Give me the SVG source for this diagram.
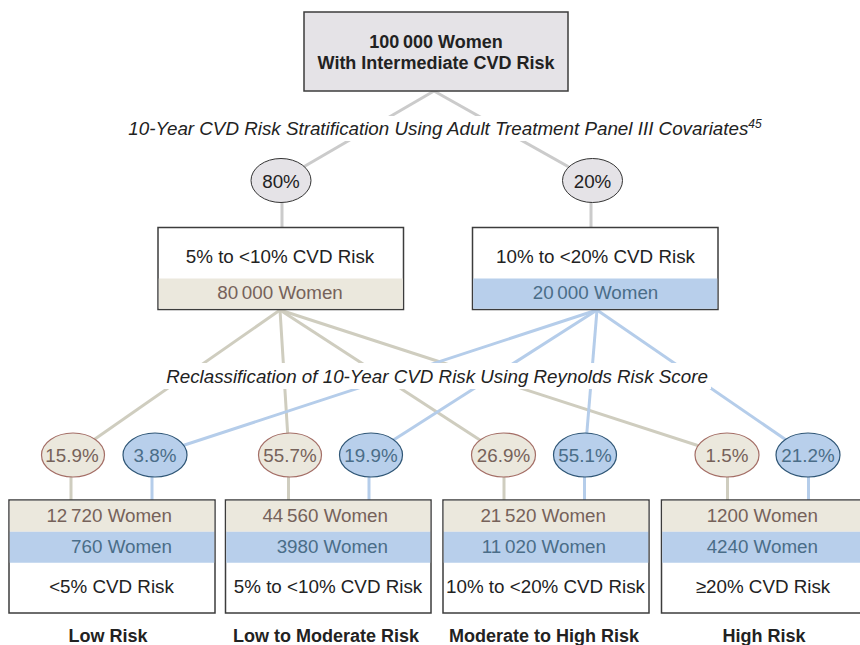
<svg xmlns="http://www.w3.org/2000/svg" width="860" height="645" viewBox="0 0 860 645">
<style>
text{font-family:"Liberation Sans",Arial,sans-serif;font-size:18.8px;fill:#222;}
.b{font-weight:bold;font-size:18px;}
.it{font-style:italic;}
.mid{text-anchor:middle;}
.end{text-anchor:end;}
.tb{fill:#76625a;}
.tbl{fill:#4a6d88;}
.box{fill:#fff;stroke:#3c3c3c;stroke-width:1.5;}
.gray{fill:#e5e3e7;}
.beige{fill:#ebe8dd;}
.blue{fill:#b8cfeb;}
.eg{fill:#e5e3e7;stroke:#333;stroke-width:1;}
.eb{fill:#ebe8dd;stroke:#a46e66;stroke-width:1.2;}
.el{fill:#b8cfeb;stroke:#2f5676;stroke-width:1.2;}
.lg{stroke:#cbcbcb;stroke-width:3;fill:none;}
.lb{stroke:#cfcdbf;stroke-width:3;fill:none;}
.ll{stroke:#b5cdea;stroke-width:3;fill:none;}
</style>
<rect width="860" height="645" fill="#fff"/>
<g id="connectors">
<line class="lg" x1="434" y1="91" x2="281" y2="180"/>
<line class="lg" x1="434" y1="91" x2="592" y2="180"/>
<line class="lg" x1="282" y1="200" x2="282" y2="228"/>
<line class="lg" x1="591" y1="200" x2="591" y2="228"/>
<line class="lb" x1="280" y1="310" x2="72" y2="455"/>
<line class="lb" x1="280" y1="310" x2="289" y2="455"/>
<line class="lb" x1="280" y1="310" x2="503" y2="455"/>
<line class="lb" x1="280" y1="310" x2="727" y2="455"/>
<line class="ll" x1="597" y1="310" x2="154" y2="455"/>
<line class="ll" x1="597" y1="310" x2="370" y2="455"/>
<line class="ll" x1="597" y1="310" x2="585" y2="455"/>
<line class="ll" x1="597" y1="310" x2="808" y2="455"/>
<line class="lb" x1="71" y1="470" x2="71" y2="500"/>
<line class="ll" x1="152" y1="470" x2="152" y2="500"/>
<line class="lb" x1="288.5" y1="470" x2="288.5" y2="500"/>
<line class="ll" x1="369" y1="470" x2="369" y2="500"/>
<line class="lb" x1="504" y1="470" x2="504" y2="500"/>
<line class="ll" x1="584.5" y1="470" x2="584.5" y2="500"/>
<line class="lb" x1="727.5" y1="470" x2="727.5" y2="500"/>
<line class="ll" x1="808.5" y1="470" x2="808.5" y2="500"/>
</g>
<g id="label-stratification">
<rect x="128" y="116" width="636" height="25" fill="#fff"/>
<text class="it mid" x="445" y="134.5">10-Year CVD Risk Stratification Using Adult Treatment Panel III Covariates<tspan font-size="12" dy="-7">45</tspan></text>
</g>
<g id="label-reclassification">
<rect x="163" y="363" width="548" height="26" fill="#fff"/>
<text class="it mid" x="437" y="383">Reclassification of 10-Year CVD Risk Using Reynolds Risk Score</text>
</g>
<g id="top">
<rect class="box gray" x="304" y="12" width="264" height="79"/>
<text class="b mid" x="436" y="48">100&#8201;000 Women</text>
<text class="b mid" x="436" y="69">With Intermediate CVD Risk</text>
</g>
<g id="p80">
<ellipse class="eg" cx="281" cy="180.5" rx="30" ry="22"/>
<text class="mid" x="281" y="188">80%</text>
</g>
<g id="p20">
<ellipse class="eg" cx="592.5" cy="180.5" rx="30" ry="22"/>
<text class="mid" x="592.5" y="188">20%</text>
</g>
<g id="mid-left">
<rect class="box" x="158" y="227.5" width="245.5" height="82"/>
<rect class="beige" x="158.75" y="278.5" width="244" height="30.25"/>
<text class="mid" x="280" y="262.5">5% to &lt;10% CVD Risk</text>
<text class="mid tb" x="280" y="299">80&#8201;000 Women</text>
</g>
<g id="mid-right">
<rect class="box" x="472.5" y="227.5" width="245.5" height="82"/>
<rect class="blue" x="473.25" y="278.5" width="244" height="30.25"/>
<text class="mid" x="595.5" y="262.5">10% to &lt;20% CVD Risk</text>
<text class="mid tbl" x="595.5" y="299">20&#8201;000 Women</text>
</g>
<g id="e159"><ellipse class="eb" cx="73" cy="455" rx="31.5" ry="22"/><text class="mid tb" x="72" y="461.5">15.9%</text></g>
<g id="e38"><ellipse class="el" cx="155" cy="455" rx="32" ry="22"/><text class="mid tbl" x="155" y="461.5">3.8%</text></g>
<g id="e557"><ellipse class="eb" cx="290" cy="455" rx="31.5" ry="22"/><text class="mid tb" x="290" y="461.5">55.7%</text></g>
<g id="e199"><ellipse class="el" cx="371" cy="455" rx="31.5" ry="22"/><text class="mid tbl" x="371" y="461.5">19.9%</text></g>
<g id="e269"><ellipse class="eb" cx="503.5" cy="455" rx="32" ry="22"/><text class="mid tb" x="503.5" y="461.5">26.9%</text></g>
<g id="e551"><ellipse class="el" cx="585" cy="455" rx="31.5" ry="22"/><text class="mid tbl" x="585" y="461.5">55.1%</text></g>
<g id="e15"><ellipse class="eb" cx="727" cy="455" rx="32" ry="22"/><text class="mid tb" x="727" y="461.5">1.5%</text></g>
<g id="e212"><ellipse class="el" cx="808" cy="455" rx="32" ry="22"/><text class="mid tbl" x="808" y="461.5">21.2%</text></g>
<g id="low">
<rect class="box" x="9" y="500" width="206" height="113"/>
<rect class="beige" x="9.75" y="500.75" width="204.5" height="31"/>
<rect class="blue" x="9.75" y="531.75" width="204.5" height="31"/>
<text class="end tb" x="172" y="521.5">12&#8201;720 Women</text>
<text class="end tbl" x="172" y="553">760 Women</text>
<text class="mid" x="111.5" y="592.5">&lt;5% CVD Risk</text>
<text class="b mid" x="108" y="642">Low Risk</text>
</g>
<g id="low-moderate">
<rect class="box" x="225.5" y="500" width="205.5" height="113"/>
<rect class="beige" x="226.25" y="500.75" width="204" height="31"/>
<rect class="blue" x="226.25" y="531.75" width="204" height="31"/>
<text class="end tb" x="388" y="521.5">44&#8201;560 Women</text>
<text class="end tbl" x="388" y="553">3980 Women</text>
<text class="mid" x="328" y="592.5">5% to &lt;10% CVD Risk</text>
<text class="b mid" x="326" y="642">Low to Moderate Risk</text>
</g>
<g id="moderate-high">
<rect class="box" x="443" y="500" width="206" height="113"/>
<rect class="beige" x="443.75" y="500.75" width="204.5" height="31"/>
<rect class="blue" x="443.75" y="531.75" width="204.5" height="31"/>
<text class="end tb" x="606" y="521.5">21&#8201;520 Women</text>
<text class="end tbl" x="606" y="553">11&#8201;020 Women</text>
<text class="mid" x="545.5" y="592.5">10% to &lt;20% CVD Risk</text>
<text class="b mid" x="544" y="642">Moderate to High Risk</text>
</g>
<g id="high">
<rect class="box" x="661.5" y="500" width="206" height="113"/>
<rect class="beige" x="662.25" y="500.75" width="204.5" height="31"/>
<rect class="blue" x="662.25" y="531.75" width="204.5" height="31"/>
<text class="end tb" x="818" y="521.5">1200 Women</text>
<text class="end tbl" x="818" y="553">4240 Women</text>
<text class="mid" x="763" y="592.5">≥20% CVD Risk</text>
<text class="b mid" x="764" y="642">High Risk</text>
</g>
</svg>
